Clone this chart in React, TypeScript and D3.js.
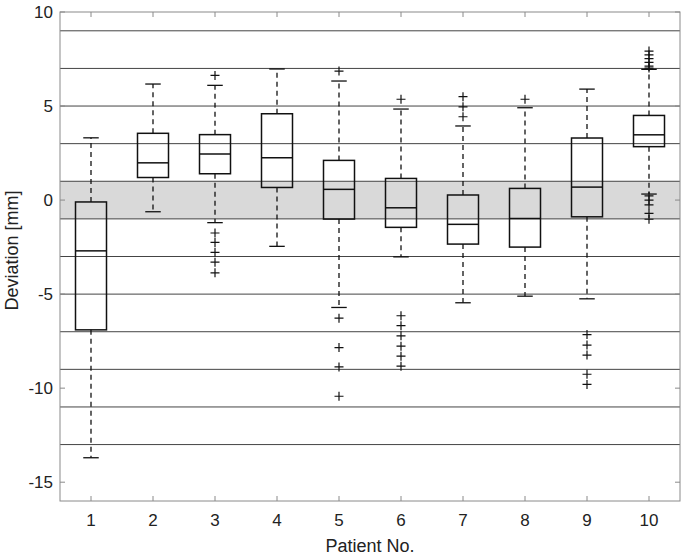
import React from "react";
import * as d3 from "d3";

const patients = [1, 2, 3, 4, 5, 6, 7, 8, 9, 10];
const lowWhisker = [-13.7, -0.62, -1.2, -2.46, -5.71, -3.02, -5.46, -5.11, -5.25, 0.32];
const q1 = [-6.9, 1.2, 1.4, 0.67, -1.01, -1.45, -2.34, -2.5, -0.89, 2.84];
const median = [-2.7, 1.98, 2.45, 2.25, 0.57, -0.41, -1.29, -0.98, 0.69, 3.47];
const q3 = [-0.1, 3.55, 3.48, 4.59, 2.11, 1.15, 0.27, 0.62, 3.3, 4.5];
const highWhisker = [3.31, 6.17, 6.1, 6.97, 6.33, 4.84, 3.94, 4.91, 5.9, 6.95];
const outliers: number[][] = [
  [],
  [],
  [6.63, -1.75, -2.25, -2.78, -3.3, -3.87],
  [],
  [6.86, -6.28, -7.84, -8.87, -10.43],
  [5.36, -6.15, -6.68, -7.22, -7.77, -8.3, -8.83],
  [5.5, 4.96, 4.43],
  [5.36],
  [-7.15, -7.71, -8.24, -9.26, -9.8],
  [7.92, 7.72, 7.52, 7.32, 7.12, 7.02, 0.22, 0.0, -0.25, -0.71, -1.02],
];
const yTicks = [-15, -10, -5, 0, 5, 10];
const gridValues = [-13, -11, -9, -7, -5, -3, -1, 1, 3, 5, 7, 9];
const bandRange = [-1, 1];

const W = 685;
const H = 557;
const left = 60;
const right = 680;
const top = 12;
const bottom = 501;

export default function App() {
  const x = d3.scaleLinear().domain([0.5, 10.5]).range([left, right]);
  const y = d3.scaleLinear().domain([-16, 10]).range([bottom, top]);
  const bw = x(1.25) - x(1);
  const cw = x(1.125) - x(1);
  const font = "'Liberation Sans', Arial, sans-serif";
  const axisColor = "#8a8a8a";
  return (
    <svg width={W} height={H} style={{ position: "absolute", left: 0, top: 0, background: "#fff" }}>
      <rect x={left} y={top} width={right - left} height={bottom - top} fill="#fff" />
      <rect
        x={left}
        y={y(bandRange[1])}
        width={right - left}
        height={y(bandRange[0]) - y(bandRange[1])}
        fill="#d9d9d9"
      />
      {gridValues.map((g) => (
        <line key={g} x1={left} x2={right} y1={y(g)} y2={y(g)} stroke="#444" strokeWidth={1} />
      ))}
      {patients.map((p, i) => {
        const cx = x(p);
        return (
          <g key={p} stroke="#111" fill="none">
            <line x1={cx} x2={cx} y1={y(q3[i])} y2={y(highWhisker[i])} strokeDasharray="5,4" strokeWidth={1.3} />
            <line x1={cx} x2={cx} y1={y(q1[i])} y2={y(lowWhisker[i])} strokeDasharray="5,4" strokeWidth={1.3} />
            <line x1={cx - cw} x2={cx + cw} y1={y(highWhisker[i])} y2={y(highWhisker[i])} strokeWidth={1.3} />
            <line x1={cx - cw} x2={cx + cw} y1={y(lowWhisker[i])} y2={y(lowWhisker[i])} strokeWidth={1.3} />
            <rect x={cx - bw} y={y(q3[i])} width={2 * bw} height={y(q1[i]) - y(q3[i])} strokeWidth={1.5} />
            <line x1={cx - bw} x2={cx + bw} y1={y(median[i])} y2={y(median[i])} strokeWidth={1.5} />
            {outliers[i].map((o, j) => (
              <path key={j} d={`M${cx - 4.5},${y(o)}H${cx + 4.5}M${cx},${y(o) - 4.5}V${y(o) + 4.5}`} strokeWidth={1.2} />
            ))}
          </g>
        );
      })}
      <rect x={left} y={top} width={right - left} height={bottom - top} fill="none" stroke={axisColor} strokeWidth={1} />
      {patients.map((p) => (
        <g key={"xt" + p} stroke={axisColor}>
          <line x1={x(p)} x2={x(p)} y1={bottom} y2={bottom - 5} />
          <line x1={x(p)} x2={x(p)} y1={top} y2={top + 5} />
        </g>
      ))}
      {yTicks.map((t) => (
        <g key={"yt" + t} stroke={axisColor}>
          <line x1={left} x2={left + 5} y1={y(t)} y2={y(t)} />
          <line x1={right} x2={right - 5} y1={y(t)} y2={y(t)} />
        </g>
      ))}
      {patients.map((p) => (
        <text key={"xl" + p} x={x(p)} y={526} textAnchor="middle" fontFamily={font} fontSize={17} fill="#222">
          {p}
        </text>
      ))}
      {yTicks.map((t) => (
        <text key={"yl" + t} x={53} y={y(t) + 6} textAnchor="end" fontFamily={font} fontSize={17} fill="#222">
          {t}
        </text>
      ))}
      <text x={(left + right) / 2} y={552} textAnchor="middle" fontFamily={font} fontSize={18} fill="#222">
        Patient No.
      </text>
      <text
        transform={`translate(18,${(top + bottom) / 2 - 6}) rotate(-90)`}
        textAnchor="middle"
        fontFamily={font}
        fontSize={18}
        fill="#222"
      >
        Deviation [mm]
      </text>
    </svg>
  );
}
